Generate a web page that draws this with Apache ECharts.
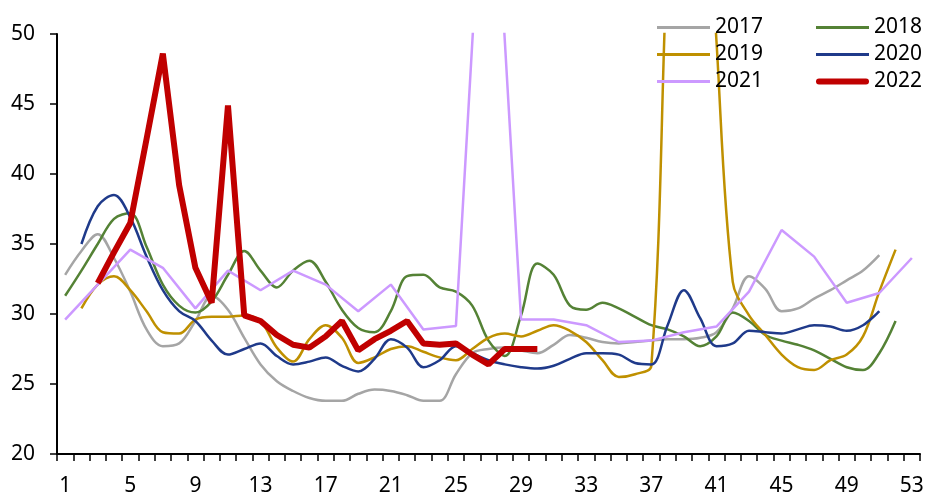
<!DOCTYPE html>
<html>
<head>
<meta charset="utf-8">
<script src="https://cdn.jsdelivr.net/npm/echarts@6/dist/echarts.min.js"></script>
<style>
html,body{margin:0;padding:0;background:#fff;}
#c{width:927px;height:497px;}
</style>
</head>
<body>
<div id="c"></div>
<script>
const weeks = ['1','2','3','4','5','6','7','8','9','10','11','12','13','14','15','16','17','18','19','20','21','22','23','24','25','26','27','28','29','30','31','32','33','34','35','36','37','38','39','40','41','42','43','44','45','46','47','48','49','50','51','52','53'];
const yTicks = [20, 25, 30, 35, 40, 45, 50];

const s2017 = [32.8, 34.5, 35.7, 34.0, 31.6, 28.9, 27.7, 27.9, 29.5, 31.3, 30.3, 28.3, 26.4, 25.2, 24.5, 24.0, 23.8, 23.8, 24.3, 24.6, 24.5, 24.2, 23.8, 23.8, 25.7, 27.2, 27.5, 27.6, 27.4, 27.2, 27.8, 28.5, 28.3, 28.0, 27.9, 28.0, 28.1, 28.2, 28.2, 28.3, 28.7, 30.4, 32.7, 31.8, 30.2, 30.4, 31.1, 31.7, 32.4, 33.1, 34.2, null, null];
const s2018 = [31.3, 33.1, 35.0, 36.8, 37.2, 34.8, 32.1, 30.6, 30.1, 30.9, 32.8, 34.5, 33.1, 31.9, 33.1, 33.8, 32.3, 30.3, 29.0, 28.7, 30.2, 32.7, 32.8, 31.9, 31.6, 30.6, 28.1, 27.0, 29.9, 33.6, 32.8, 30.6, 30.3, 30.8, 30.4, 29.8, 29.2, 28.9, 28.4, 27.7, 28.4, 30.1, 29.5, 28.5, 28.1, 27.8, 27.4, 26.8, 26.2, 26.0, 27.2, 29.5, null];
const s2019 = [null, 30.4, 32.1, 32.7, 31.7, 30.2, 28.7, 28.6, 29.6, 29.8, 29.8, 29.9, 29.5, 27.6, 26.6, 28.2, 29.2, 28.3, 26.5, 26.9, 27.5, 27.7, 27.3, 26.9, 26.7, 27.5, 28.3, 28.6, 28.4, 28.8, 29.2, 28.8, 28.0, 26.7, 25.5, 25.7, 26.3, 56.0, 75.0, 70.0, 49.5, 32.3, 29.9, 28.5, 27.1, 26.2, 26.0, 26.7, 27.1, 28.4, 31.6, 34.6, null];
const s2020 = [null, 35.0, 37.7, 38.5, 36.9, 34.1, 31.7, 30.2, 29.5, 28.1, 27.1, 27.5, 27.9, 27.0, 26.4, 26.6, 26.9, 26.3, 25.9, 26.8, 28.2, 27.6, 26.2, 26.7, 27.7, 27.2, 26.7, 26.4, 26.2, 26.1, 26.3, 26.8, 27.2, 27.2, 27.1, 26.5, 26.4, 29.2, 31.7, 29.7, 27.7, 27.9, 28.8, 28.7, 28.6, 28.9, 29.2, 29.1, 28.8, 29.2, 30.2, null, null];
const s2021 = [29.6, null, 32.1, null, 34.6, null, 33.3, null, 30.4, null, 33.1, null, 31.7, null, 33.1, null, 32.1, null, 30.2, null, 32.1, null, 28.9, null, 29.15, null, 69.5, null, 29.6, null, 29.6, null, 29.2, null, 28.0, null, 28.1, null, 28.7, null, 29.1, null, 31.6, null, 36.0, null, 34.1, null, 30.8, null, 31.5, null, 34.0];
const s2022 = [null, null, 32.2, 34.4, 36.5, 42.5, 48.6, 39.2, 33.3, 30.8, 44.9, 29.9, 29.5, 28.5, 27.8, 27.6, 28.4, 29.5, 27.4, 28.2, 28.8, 29.5, 27.9, 27.8, 27.9, 27.1, 26.4, 27.5, 27.5, 27.5];

const FONT = 'Noto Sans';
const THIN_ICON = 'path://M0,0M53,14M0,5.6L53,5.6L53,8.4L0,8.4Z';
const THICK_ICON = 'path://M0,0M53,14M3,4L50,4A3,3,0,0,1,50,10L3,10A3,3,0,0,1,3,4Z';
function mk(name, data, color, width, smooth, connect) {
  return {
    name: name, type: 'line', data: data, smooth: smooth, connectNulls: connect,
    symbol: 'none', showSymbol: false, clip: true,
    lineStyle: { color: color, width: width }, itemStyle: { color: color },
    emphasis: { disabled: true }, animation: false
  };
}
const legendCommon = {
  orient: 'vertical', itemWidth: 53, itemHeight: 14, itemGap: 6,
  textStyle: { fontFamily: FONT, fontSize: 21, color: '#000', lineHeight: 21 },
  selectedMode: false
};
const chart = echarts.init(document.getElementById('c'), null, { renderer: 'canvas' });
chart.setOption({
  animation: false,
  backgroundColor: '#fff',
  grid: { left: 57, right: 7, top: 34, bottom: 40, containLabel: false },
  legend: [
    Object.assign({}, legendCommon, { id: 'l1', left: 652, top: 12,
      data: [{ name: '2017', icon: THIN_ICON }, { name: '2019', icon: THIN_ICON }, { name: '2021', icon: THIN_ICON }] }),
    Object.assign({}, legendCommon, { id: 'l2', left: 811, top: 12,
      data: [{ name: '2018', icon: THIN_ICON }, { name: '2020', icon: THIN_ICON }, { name: '2022', icon: THICK_ICON }] })
  ],
  xAxis: {
    type: 'category', data: weeks, boundaryGap: true,
    axisLine: { lineStyle: { color: '#000', width: 2 } },
    axisTick: { show: true, interval: 0, length: 7, lineStyle: { color: '#000', width: 1.5 } },
    axisLabel: { interval: 3, margin: 22, fontFamily: FONT, fontSize: 21, color: '#000' },
    splitLine: { show: false }
  },
  yAxis: {
    type: 'value', min: yTicks[0], max: yTicks[yTicks.length - 1], interval: 5,
    axisLine: { show: true, lineStyle: { color: '#000', width: 2 } },
    axisTick: { show: true, length: 7, lineStyle: { color: '#000', width: 1.5 } },
    axisLabel: { margin: 22, fontFamily: FONT, fontSize: 21, color: '#000' },
    splitLine: { show: false }
  },
  series: [
    mk('2017', s2017, '#A5A5A5', 2.5, 0.35, false),
    mk('2018', s2018, '#548235', 2.5, 0.35, false),
    mk('2019', s2019, '#BF9000', 2.5, 0.35, false),
    mk('2020', s2020, '#1F3A8A', 2.5, 0.35, false),
    mk('2021', s2021, '#CC99FF', 2.5, false, true),
    mk('2022', s2022, '#C00000', 6, false, false)
  ]
});
</script>
</body>
</html>
